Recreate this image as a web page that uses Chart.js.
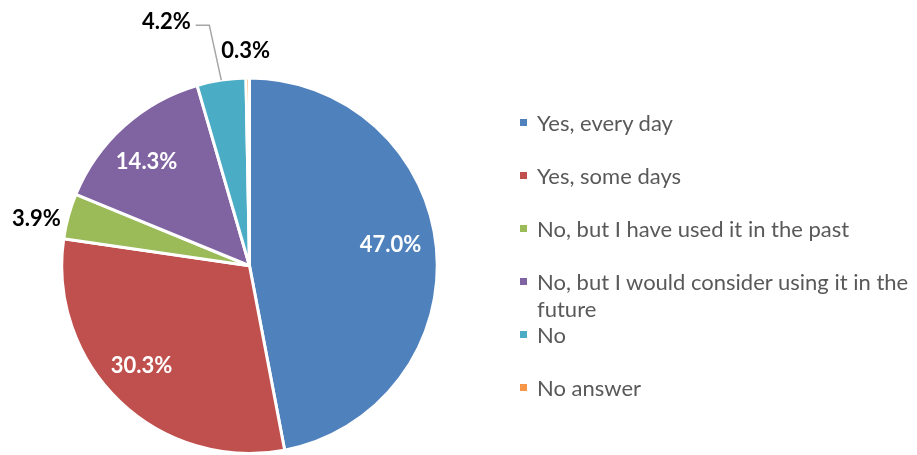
<!DOCTYPE html>
<html>
<head>
<meta charset="utf-8">
<script src="https://cdn.jsdelivr.net/npm/chart.js@4.4.1/dist/chart.umd.min.js"></script>
<style>
  html, body { margin: 0; padding: 0; background: #fff; overflow: hidden; }
  #wrap { position: relative; width: 917px; height: 455px; overflow: hidden; }
  #legend {
    position: absolute; left: 518px; top: 109px; width: 405px;
    font-family: Lato, "Liberation Sans", sans-serif; font-size: 22px; color: #595959;
  }
  .item { position: relative; height: 53px; padding-left: 19px; line-height: 27px; }
  .swatch { position: absolute; left: 2px; top: 10px; width: 7px; height: 7px; }
</style>
</head>
<body>
<div id="wrap">
  <canvas id="pieChart" width="917" height="455"></canvas>
  <div id="legend"></div>
</div>
<script>
const answers = [
  'Yes, every day',
  'Yes, some days',
  'No, but I have used it in the past',
  'No, but I would consider using it in the future',
  'No',
  'No answer'
];
const shares = [47.0, 30.3, 3.9, 14.3, 4.2, 0.3];
const colors = ['#4F81BD', '#C0504D', '#9BBB59', '#8064A2', '#4BACC6', '#F79646'];

// label placement: inside = fraction of radius plus a nudge, outside = offset from the slice edge
const labelPlacement = [
  { inside: true, r: 0.76, dx: -1, dy: -8 },
  { inside: true, r: 0.77, dx: -8, dy: -5 },
  { inside: false, dx: -32, dy: 2 },
  { inside: true, r: 0.78, dx: -5, dy: 4 },
  { inside: false, dx: -55, dy: -59, leader: { dx: -12, dy: -55 } },
  { inside: false, dx: -2, dy: -27.5 }
];

const sliceLabels = {
  id: 'sliceLabels',
  afterDatasetsDraw(chart) {
    const ctx = chart.ctx;
    const meta = chart.getDatasetMeta(0);
    const size = 22;
    const capHalf = size * 0.716 / 2;
    ctx.save();
    ctx.font = 'bold ' + size + 'px Lato, "Liberation Sans", sans-serif';
    ctx.textAlign = 'center';
    ctx.textBaseline = 'alphabetic';
    meta.data.forEach((arc, i) => {
      const place = labelPlacement[i];
      const mid = (arc.startAngle + arc.endAngle) / 2;
      const text = shares[i].toFixed(1) + '%';
      if (place.inside) {
        const r = arc.outerRadius * place.r;
        const x = arc.x + Math.cos(mid) * r + place.dx;
        const y = arc.y + Math.sin(mid) * r + place.dy;
        ctx.fillStyle = '#FFFFFF';
        ctx.fillText(text, x, y + capHalf);
        return;
      }
      const ex = arc.x + Math.cos(mid) * arc.outerRadius;
      const ey = arc.y + Math.sin(mid) * arc.outerRadius;
      const x = ex + place.dx;
      const y = ey + place.dy;
      if (place.leader) {
        const w = ctx.measureText(text).width;
        ctx.strokeStyle = '#A6A6A6';
        ctx.lineWidth = 1.5;
        ctx.beginPath();
        ctx.moveTo(ex, ey);
        ctx.lineTo(ex + place.leader.dx, ey + place.leader.dy);
        ctx.lineTo(x + w / 2 + 5, ey + place.leader.dy);
        ctx.stroke();
      }
      ctx.fillStyle = '#000000';
      ctx.fillText(text, x, y + capHalf);
    });
    ctx.restore();
  }
};

const chart = new Chart(document.getElementById('pieChart').getContext('2d'), {
  type: 'pie',
  data: {
    labels: answers,
    datasets: [{
      data: shares,
      backgroundColor: colors,
      borderColor: '#FFFFFF',
      borderWidth: 3
    }]
  },
  options: {
    responsive: false,
    animation: false,
    layout: { padding: { left: 60, right: 478, top: 76.5, bottom: 0 } },
    plugins: {
      legend: { display: false },
      tooltip: { enabled: false }
    }
  },
  plugins: [sliceLabels]
});

// legend on the right, built from the same arrays
const legend = document.getElementById('legend');
answers.forEach((name, i) => {
  const item = document.createElement('div');
  item.className = 'item';
  const sw = document.createElement('span');
  sw.className = 'swatch';
  sw.style.background = colors[i];
  item.appendChild(sw);
  item.appendChild(document.createTextNode(name));
  legend.appendChild(item);
});
</script>
</body>
</html>
